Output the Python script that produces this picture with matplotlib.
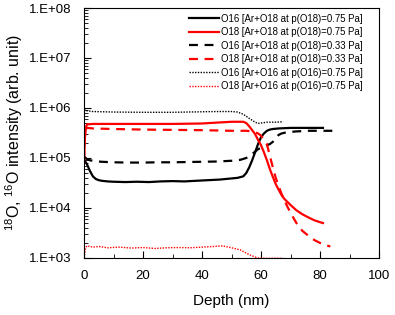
import numpy as np
import matplotlib
matplotlib.use("Agg")
import matplotlib.pyplot as plt
from matplotlib.ticker import FuncFormatter, MultipleLocator, LogLocator

plt.rcParams["font.family"] = ["Liberation Sans", "DejaVu Sans"]
plt.rcParams["mathtext.default"] = "regular"

# O16 [Ar+O18 at p(O18)=0.75 Pa]
d_o16_075 = [0.2, 1, 2, 3, 4, 5, 6, 8, 10, 14, 18, 22, 26, 30, 34, 38, 42, 46, 50, 52, 54, 55,
             56, 57, 58, 59, 60, 61, 62, 63, 64, 66, 70, 75, 81]
v_o16_075 = [9e4, 7.5e4, 5.5e4, 4.3e4, 3.8e4, 3.6e4, 3.5e4, 3.4e4, 3.35e4, 3.3e4, 3.35e4, 3.3e4,
             3.4e4, 3.45e4, 3.4e4, 3.5e4, 3.6e4, 3.7e4, 3.9e4, 4.0e4, 4.3e4, 5e4, 6.5e4, 9e4,
             1.3e5, 1.9e5, 2.6e5, 3.1e5, 3.5e5, 3.7e5, 3.8e5, 3.9e5, 4.0e5, 4.0e5, 4.0e5]

# O18 [Ar+O18 at p(O18)=0.75 Pa]
d_o18_075 = [0, 0.3, 0.7, 1, 3, 10, 20, 30, 40, 45, 50, 54, 55, 56, 57, 58, 59, 60, 61, 62, 63,
             64, 65, 66, 67, 68, 70, 72, 74, 76, 78, 80, 81]
v_o18_075 = [8e4, 2.5e5, 4.2e5, 4.7e5, 4.8e5, 4.8e5, 4.8e5, 4.8e5, 4.9e5, 5.1e5, 5.3e5, 5.3e5,
             5.0e5, 4.3e5, 3.6e5, 3.0e5, 2.3e5, 1.8e5, 1.3e5, 9e4, 6e4, 4.2e4, 3e4, 2.3e4,
             1.8e4, 1.5e4, 1.15e4, 9e3, 7.5e3, 6.5e3, 5.7e3, 5.2e3, 5e3]

# O16 [Ar+O18 at p(O18)=0.33 Pa]
d_o16_033 = [0.2, 1, 2, 4, 6, 10, 15, 20, 25, 30, 35, 40, 45, 50, 53, 55, 57, 59, 61, 63, 64,
             65, 66, 67, 69, 72, 76, 80, 85]
v_o16_033 = [1.05e5, 9.5e4, 9e4, 8.6e4, 8.4e4, 8.2e4, 8.1e4, 8.1e4, 8.2e4, 8.2e4, 8.3e4, 8.4e4,
             8.5e4, 8.8e4, 9.2e4, 1.0e5, 1.2e5, 1.5e5, 1.7e5, 1.9e5, 2.1e5, 2.5e5, 2.9e5,
             3.1e5, 3.3e5, 3.4e5, 3.5e5, 3.5e5, 3.5e5]

# O18 [Ar+O18 at p(O18)=0.33 Pa]
d_o18_033 = [0, 0.3, 0.7, 1, 3, 10, 20, 30, 40, 50, 55, 57, 59, 60, 61, 62, 63, 64, 65, 66, 67,
             68, 69, 70, 72, 74, 76, 78, 80, 82, 83.5]
v_o18_033 = [9e4, 3e5, 3.9e5, 4.0e5, 3.9e5, 3.8e5, 3.7e5, 3.65e5, 3.6e5, 3.5e5, 3.5e5, 3.4e5,
             3.1e5, 2.8e5, 2.3e5, 1.9e5, 1.1e5, 6.5e4, 4e4, 2.7e4, 1.9e4, 1.4e4, 1.05e4, 8e3,
             5e3, 3.5e3, 2.8e3, 2.3e3, 2.0e3, 1.8e3, 1.7e3]

# O16 [Ar+O16 at p(O16)=0.75 Pa]
d_o16_o16 = [0, 1, 3, 10, 20, 30, 40, 45, 50, 52, 54, 56, 58, 59, 60, 62, 65, 67.5]
v_o16_o16 = [9.5e5, 8.8e5, 8.5e5, 8.3e5, 8.2e5, 8.2e5, 8.4e5, 8.5e5, 8.5e5, 8.3e5, 7.5e5,
             6.2e5, 5.2e5, 4.9e5, 5.0e5, 5.2e5, 5.2e5, 5.3e5]

# O18 [Ar+O16 at p(O16)=0.75 Pa]
d_o18_o16 = [0, 0.5, 1, 3, 5, 8, 12, 16, 20, 24, 28, 32, 36, 40, 44, 47, 50, 53, 55, 57, 59,
             62, 65, 67.5]
v_o18_o16 = [1e3, 1.6e3, 1.75e3, 1.65e3, 1.7e3, 1.6e3, 1.65e3, 1.58e3, 1.62e3, 1.55e3, 1.6e3,
             1.62e3, 1.6e3, 1.65e3, 1.7e3, 1.75e3, 1.6e3, 1.45e3, 1.25e3, 1.1e3, 1.0e3,
             0.98e3, 0.99e3, 0.98e3]

fig = plt.figure(figsize=(3.95, 3.15), dpi=100)
ax = fig.add_axes([0.2127, 0.181, 0.7468, 0.7936])

ax.plot(d_o16_075, v_o16_075, color="black", lw=1.6, label="O16 [Ar+O18 at p(O18)=0.75 Pa]")
ax.plot(d_o18_075, v_o18_075, color="red", lw=1.6, label="O18 [Ar+O18 at p(O18)=0.75 Pa]")
ax.plot(d_o16_033, v_o16_033, color="black", lw=1.6, ls=(0, (4, 3)), label="O16 [Ar+O18 at p(O18)=0.33 Pa]")
ax.plot(d_o18_033, v_o18_033, color="red", lw=1.6, ls=(0, (4, 3)), label="O18 [Ar+O18 at p(O18)=0.33 Pa]")
ax.plot(d_o16_o16, v_o16_o16, color="black", lw=1.0, ls=(0, (1, 1)), label="O16 [Ar+O16 at p(O16)=0.75 Pa]")
ax.plot(d_o18_o16, v_o18_o16, color="red", lw=1.0, ls=(0, (1, 1)), label="O18 [Ar+O16 at p(O16)=0.75 Pa]")

ax.set_yscale("log")
ax.set_xlim(0, 100)
ax.set_ylim(1e3, 1e8)
ax.xaxis.set_major_locator(MultipleLocator(20))
ax.xaxis.set_minor_locator(MultipleLocator(10))
ax.yaxis.set_major_locator(LogLocator(base=10, numticks=10))
ax.yaxis.set_minor_locator(LogLocator(base=10, subs=np.arange(2, 10), numticks=20))
ax.yaxis.set_major_formatter(FuncFormatter(lambda v, p: "1.E+%02d" % round(np.log10(v))))
ax.yaxis.set_minor_formatter(FuncFormatter(lambda v, p: ""))
ax.tick_params(which="both", direction="in", labelsize=9.5)
ax.tick_params(which="major", length=5)
ax.tick_params(which="minor", length=3)
ax.tick_params(axis="x", pad=9)
ax.tick_params(axis="y", pad=9)

ax.set_xlabel("Depth (nm)", fontsize=11, labelpad=8)
ax.set_ylabel("$^{18}$O, $^{16}$O intensity (arb. unit)", fontsize=11.5, labelpad=3)

ax.legend(loc="upper right", frameon=False, fontsize=6.9, handlelength=3.1,
          handletextpad=0.25, labelspacing=0.36, borderaxespad=0.2,
          bbox_to_anchor=(0.965, 1.0))

fig.savefig("out.png", dpi=100)
